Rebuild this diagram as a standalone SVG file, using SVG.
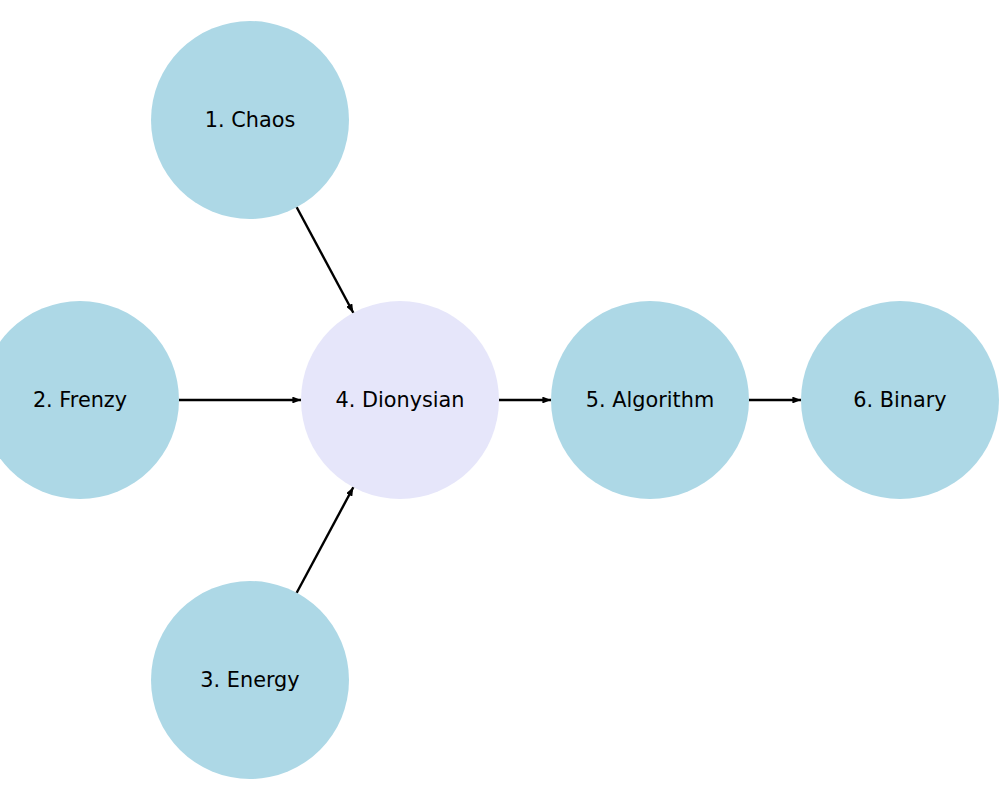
<svg xmlns="http://www.w3.org/2000/svg" width="1000" height="800" viewBox="0 0 1000 800">
<style>
.n{fill:#add8e6}
.c{fill:#e6e6fa}
text{font-family:"DejaVu Sans",sans-serif;font-size:20.8px;fill:#000;text-anchor:middle;dominant-baseline:central}
.e{stroke:#000;stroke-width:2.4;fill:none;marker-end:url(#ah)}
</style>
<defs>
<marker id="ah" viewBox="0 0 10 8" refX="10" refY="4" markerWidth="3.6" markerHeight="2.9" markerUnits="strokeWidth" orient="auto">
<path d="M0,0 L10,4 L0,8 Z" fill="#000"/>
</marker>
</defs>
<rect width="1000" height="800" fill="#fff"/>
<g id="n1"><circle class="n" cx="250" cy="120" r="99"/><text x="250" y="119.5">1. Chaos</text></g>
<g id="n2"><circle class="n" cx="80" cy="400" r="99"/><text x="80" y="399.5">2. Frenzy</text></g>
<g id="n3"><circle class="n" cx="250" cy="680" r="99"/><text x="250" y="679.5">3. Energy</text></g>
<g id="n4"><circle class="c" cx="400" cy="400" r="99"/><text x="400" y="399.5">4. Dionysian</text></g>
<g id="n5"><circle class="n" cx="650" cy="400" r="99"/><text x="650" y="399.5">5. Algorithm</text></g>
<g id="n6"><circle class="n" cx="900" cy="400" r="99"/><text x="900" y="399.5">6. Binary</text></g>
<g id="edges">
<line class="e" x1="296.7" y1="207.3" x2="353.3" y2="312.7"/>
<line class="e" x1="179" y1="400" x2="301" y2="400"/>
<line class="e" x1="296.7" y1="592.7" x2="353.3" y2="487.3"/>
<line class="e" x1="499" y1="400" x2="551" y2="400"/>
<line class="e" x1="749" y1="400" x2="801" y2="400"/>
</g>
</svg>
